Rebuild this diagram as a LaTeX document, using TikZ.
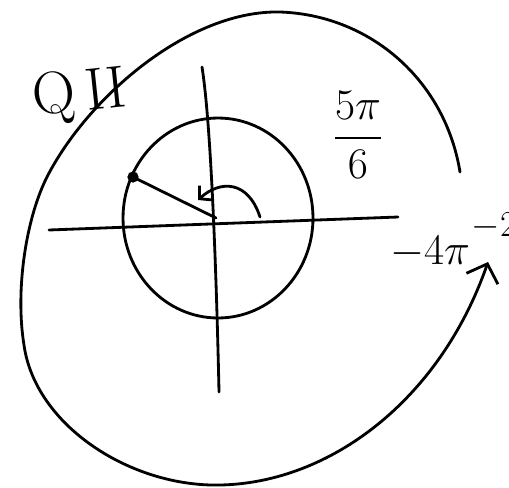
\documentclass[tikz,border=0pt]{standalone}
\usepackage{amsmath, amssymb}
\usepackage{tikz}
\usetikzlibrary{arrows.meta}

\begin{document}
\begin{tikzpicture}[x=0.02cm, y=-0.02cm, line width=1.6pt, line cap=round, line join=round]
  \useasboundingbox (0,0) rectangle (509,487);
  % axes
  \coordinate (xl) at (49,230);
  \coordinate (xr) at (398,217);
  \coordinate (yt) at (202,67);
  \coordinate (yb) at (219,392);
  \coordinate (O) at (216,218);
  \draw (xl) -- (xr);
  \draw (yt) .. controls (212,130) and (217,300) .. (yb);
  % unit circle
  \coordinate (C) at (218,218);
  \draw (C) ellipse [x radius=1.9cm, y radius=2cm];
  % point at 5pi/6
  \coordinate (P) at (133,177);
  \draw (P) -- (O);
  \fill (P) circle [radius=3.2pt];
  % small angle arrow
  \coordinate (a0) at (260,217);
  \coordinate (a1) at (198,200);
  \draw[-{Straight Barb[length=5pt,width=11pt]}] (a0) .. controls (248,180) and (220,180) .. (a1);
  % big spiral
  \coordinate (s0) at (460,172);
  \coordinate (s1) at (488,262);
  \draw[-{Straight Barb[length=9pt,width=19pt]}] (s0)
    .. controls (445,80) and (370,15) .. (280,12)
    .. controls (190,10) and (90,95) .. (48,175)
    .. controls (26,217) and (15,290) .. (24,345)
    .. controls (35,425) and (130,487) .. (220,485)
    .. controls (330,483) and (440,400) .. (s1);
  % labels
  \node (quad) at (80,96) [rotate=6] {\fontsize{34}{36}\selectfont Q\,II};
  \node (ang) at (358,135) {\fontsize{25}{28}\selectfont $\dfrac{5\pi}{6}$};
  \node (m4) at (430,252) {\fontsize{28}{30}\selectfont $-4\pi$};
  \node (m2) at (505,226) {\fontsize{22}{24}\selectfont $-2\pi$};
\end{tikzpicture}
\end{document}
